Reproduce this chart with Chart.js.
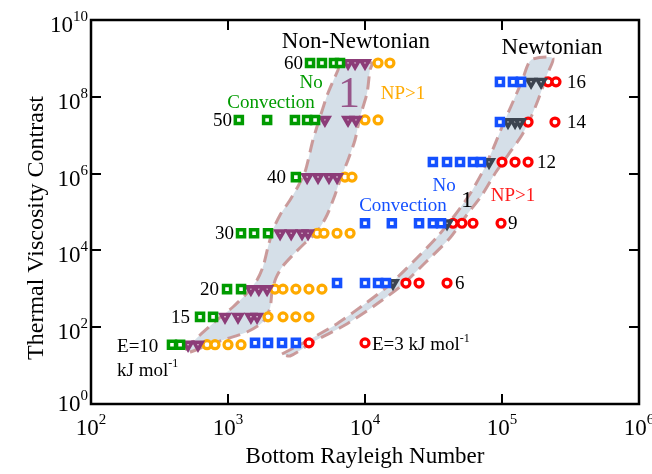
<!DOCTYPE html>
<html>
<head>
<meta charset="utf-8">
<script src="https://cdn.jsdelivr.net/npm/chart.js@4.4.1/dist/chart.umd.min.js"></script>
<style>
html,body{margin:0;padding:0;background:#fff}
#wrap{width:652px;height:474px}
</style>
</head>
<body>
<div id="wrap"><canvas id="chart" width="652" height="474"></canvas></div>
<script>
// thermal viscosity contrast of each row
const nnContrast = [7.6e8, 2.5e7, 8.1e5, 2.8e4, 980, 186, 35];   // non-Newtonian, E = 60,50,40,30,20,15,10
const nContrast  = [2.45e8, 2.2e7, 2.0e6, 5.1e4, 1410, 39];      // Newtonian, E = 16,14,12,9,6,3

// bottom Rayleigh numbers, one list per row
const nnNoConv = [[3970,4850,5940,6570],[1200,1930,3080,3780,4320],[3130],[1245,1550,1960],[984,1245],[625,778],[390,447]];
const nnOnset  = [[7520,8460,10000],[5100,7520,8590],[3780,4540,5460,6250],[2400,2890,3470,3840],[1470,1680,1930],[951,1183,1470,1630],[511,604]];
const nnNP     = [[12450,15200],[10000,12450],[7140,8040],[4470,5020,6250,7780],[2200,2520,3130,3900,4850],[1960,2520,3130,3900],[703,804,1000,1245]];

const nNoConv = [[96600,120200,137700],[96600],[31300,39700,49400,61400,70300],[10000,15700,24800,31300,35900],[6250,10000,12450,14220],[1575,1960,2480,3130]];
const nOnset  = [[163000,192800],[110600,124500,135300],[80400],[39700],[16000],[]];
const nNP     = [[216800,247800],[155000,243600],[100000,124500,155000],[43900,51000,61400,98400],[19900,24800,39700],[3900,10000]];

// outlines of the shaded bands, log10(Ra), log10(contrast)
const nnOutline = [[2.686,1.406],[2.796,1.797],[2.920,2.188],[3.036,2.526],[3.139,2.891],[3.212,3.229],[3.255,3.568],
  [3.292,4.089],[3.328,4.531],[3.380,4.922],[3.453,5.313],[3.504,5.625],[3.562,6.042],[3.620,6.875],[3.672,7.474],
  [3.730,8.099],[3.803,8.698],[3.825,8.880],[4.051,8.880],[4.036,8.698],[4.015,8.099],[3.964,7.474],[3.927,6.875],
  [3.876,6.354],[3.818,5.833],[3.781,5.443],[3.723,4.922],[3.650,4.479],[3.562,4.193],[3.474,3.880],[3.401,3.594],
  [3.350,3.281],[3.321,2.917],[3.307,2.500],[3.255,2.135],[3.139,1.875],[2.964,1.667],[2.818,1.484],[2.723,1.354],[2.686,1.406]];
const nOutline = [[3.394,1.302],[3.562,1.615],[3.781,2.057],[3.978,2.552],[4.168,3.073],[4.350,3.698],[4.526,4.349],
  [4.657,4.922],[4.766,5.469],[4.861,6.068],[4.934,6.641],[5.000,7.214],[5.073,7.813],[5.146,8.411],[5.212,8.958],
  [5.372,9.010],[5.328,8.568],[5.277,8.047],[5.219,7.526],[5.146,7.005],[5.044,6.484],[4.956,6.042],[4.854,5.443],
  [4.737,4.896],[4.620,4.323],[4.445,3.698],[4.263,3.073],[4.066,2.552],[3.854,2.057],[3.620,1.615],[3.453,1.250],[3.394,1.302]];

const xTicks = [1e2, 1e3, 1e4, 1e5, 1e6];
const xTickExp = ['2', '3', '4', '5', '6'];
const yTicks = [1e0, 1e2, 1e4, 1e6, 1e8, 1e10];
const yTickExp = ['0', '2', '4', '6', '8', '10'];

// text on the plot: [text, superscript, log10 Ra, log10 contrast, colour, size, align]
const notes = [
  ['Non-Newtonian', '', 3.934, 9.479, '#000', 23, 'center'],
  ['Newtonian', '', 5.365, 9.323, '#000', 23, 'center'],
  ['60', '', 3.547, 8.880, '#000', 19, 'right'],
  ['50', '', 3.029, 7.396, '#000', 19, 'right'],
  ['40', '', 3.423, 5.911, '#000', 19, 'right'],
  ['30', '', 3.044, 4.453, '#000', 19, 'right'],
  ['20', '', 2.934, 2.995, '#000', 19, 'right'],
  ['15', '', 2.723, 2.266, '#000', 19, 'right'],
  ['E=10', '', 2.190, 1.510, '#000', 19, 'left'],
  ['kJ mol', '-1', 2.190, 0.900, '#000', 19, 'left'],
  ['16', '', 5.474, 8.385, '#000', 19, 'left'],
  ['14', '', 5.474, 7.344, '#000', 19, 'left'],
  ['12', '', 5.255, 6.302, '#000', 19, 'left'],
  ['9', '', 5.044, 4.714, '#000', 19, 'left'],
  ['6', '', 4.657, 3.151, '#000', 19, 'left'],
  ['E=3 kJ mol', '-1', 4.051, 1.563, '#000', 19, 'left'],
  ['No', '', 3.606, 8.385, '#009b00', 19, 'center'],
  ['Convection', '', 3.314, 7.865, '#009b00', 19, 'center'],
  ['1', '', 3.883, 8.125, 'rgba(140,60,120,0.85)', 44, 'center'],
  ['NP>1', '', 4.277, 8.099, '#ffaa00', 19, 'center'],
  ['No', '', 4.577, 5.703, '#1450ff', 19, 'center'],
  ['Convection', '', 4.277, 5.182, '#1450ff', 19, 'center'],
  ['1', '', 4.745, 5.339, '#000', 24, 'center'],
  ['NP>1', '', 5.080, 5.443, '#ff1a1a', 19, 'center']
];

const SERIF = '"Liberation Serif", "Times New Roman", serif';

function rowsToPoints(rows, contrast) {
  const out = [];
  rows.forEach((r, i) => r.forEach(x => out.push({x: x, y: contrast[i]})));
  return out;
}
function outlineToPoints(o) {
  return o.map(p => ({x: Math.pow(10, p[0]), y: Math.pow(10, p[1])}));
}

function markers(data, style, color, radius, bw, rot) {
  return {
    data: data, showLine: false, pointStyle: style, pointRotation: rot || 0,
    pointRadius: radius, pointHoverRadius: radius, pointBorderWidth: bw,
    pointBorderColor: color, pointBackgroundColor: '#fff', order: 0
  };
}
function band(o) {
  return {
    data: outlineToPoints(o), showLine: true, pointRadius: 0, tension: 0.25,
    borderColor: 'rgba(200,150,150,0.95)', borderWidth: 3, borderDash: [13, 7],
    backgroundColor: '#d5dfe8', fill: 'shape', order: 5
  };
}

function drawSup(ctx, x, y, base, sup, size, supSize, raise, align, color) {
  ctx.font = size + 'px ' + SERIF;
  const bw = ctx.measureText(base).width;
  ctx.font = supSize + 'px ' + SERIF;
  const sw = sup ? ctx.measureText(sup).width : 0;
  const w = bw + sw;
  const left = align === 'center' ? x - w / 2 : align === 'right' ? x - w : x;
  ctx.fillStyle = color;
  ctx.textAlign = 'left';
  ctx.textBaseline = 'alphabetic';
  ctx.font = size + 'px ' + SERIF;
  ctx.fillText(base, left, y);
  if (sup) {
    ctx.font = supSize + 'px ' + SERIF;
    ctx.fillText(sup, left + bw, y - raise);
  }
}

const frame = {
  id: 'frame',
  afterDatasetsDraw(chart) {
    const {ctx, chartArea: a, scales: {x, y}} = chart;
    ctx.save();
    // notes
    notes.forEach(n => {
      const px = x.getPixelForValue(Math.pow(10, n[2]));
      const py = y.getPixelForValue(Math.pow(10, n[3]));
      drawSup(ctx, px, py + n[5] * 0.33, n[0], n[1], n[5], Math.round(n[5] * 0.65), n[5] * 0.45, n[6], n[4]);
    });
    // box
    ctx.strokeStyle = '#000';
    ctx.lineWidth = 2.5;
    ctx.strokeRect(a.left, a.top, a.right - a.left, a.bottom - a.top);
    // inward ticks
    ctx.lineWidth = 2;
    ctx.beginPath();
    xTicks.forEach(v => {
      const px = Math.round(x.getPixelForValue(v));
      ctx.moveTo(px, a.bottom); ctx.lineTo(px, a.bottom - 10);
      ctx.moveTo(px, a.top); ctx.lineTo(px, a.top + 10);
    });
    yTicks.forEach(v => {
      const py = Math.round(y.getPixelForValue(v));
      ctx.moveTo(a.left, py); ctx.lineTo(a.left + 10, py);
      ctx.moveTo(a.right, py); ctx.lineTo(a.right - 10, py);
    });
    ctx.stroke();
    // tick labels
    xTicks.forEach((v, i) => {
      const px = x.getPixelForValue(v);
      drawSup(ctx, px, a.bottom + 31, '10', xTickExp[i], 23, 15, 11, 'center', '#000');
    });
    yTicks.forEach((v, i) => {
      const py = y.getPixelForValue(v);
      const base = i === 0 ? py + 7 : py + 12;
      drawSup(ctx, a.left - 3, base, '10', yTickExp[i], 23, 15, 11, 'right', '#000');
    });
    // axis titles
    ctx.fillStyle = '#000';
    ctx.font = '23px ' + SERIF;
    ctx.textAlign = 'center';
    ctx.textBaseline = 'alphabetic';
    ctx.fillText('Bottom Rayleigh Number', (a.left + a.right) / 2, 463);
    ctx.translate(43, 228);
    ctx.rotate(-Math.PI / 2);
    ctx.font = '24px ' + SERIF;
    ctx.fillText('Thermal Viscosity Contrast', 0, 0);
    ctx.restore();
  }
};

const green = '#009b00', orange = '#ffaa00', purple = '#8c3c78';
const blue = '#1450ff', red = '#ff0000', slate = '#3c4450';

new Chart(document.getElementById('chart'), {
  type: 'scatter',
  data: {
    datasets: [
      markers(rowsToPoints(nnNoConv, nnContrast), 'rect', green, 5, 3.5),
      markers(rowsToPoints(nnOnset, nnContrast), 'triangle', purple, 4.6, 3.6, 180),
      markers(rowsToPoints(nnNP, nnContrast), 'circle', orange, 4, 3.2),
      markers(rowsToPoints(nNoConv, nContrast), 'rect', blue, 5, 3.5),
      markers(rowsToPoints(nOnset, nContrast), 'triangle', slate, 4.6, 3.6, 180),
      markers(rowsToPoints(nNP, nContrast), 'circle', red, 4, 3.2),
      band(nnOutline),
      band(nOutline)
    ]
  },
  options: {
    responsive: false,
    animation: false,
    devicePixelRatio: 1,
    layout: {padding: {left: 91, right: 13, top: 20, bottom: 70}},
    plugins: {legend: {display: false}, tooltip: {enabled: false}},
    scales: {
      x: {type: 'logarithmic', min: 1e2, max: 1e6, display: false},
      y: {type: 'logarithmic', min: 1e0, max: 1e10, display: false}
    }
  },
  plugins: [frame]
});
</script>
</body>
</html>
